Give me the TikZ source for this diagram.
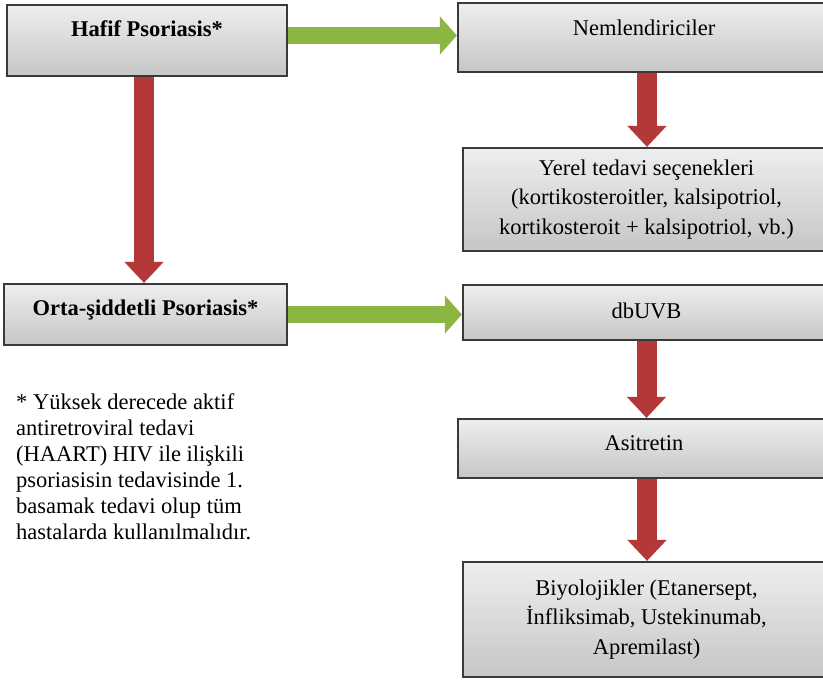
\documentclass[tikz,border=0pt]{standalone}
\usepackage{fontspec}
\setmainfont{Liberation Serif}
\usetikzlibrary{arrows.meta}
\definecolor{boxline}{RGB}{58,58,58}
\definecolor{boxtop}{RGB}{238,238,238}
\definecolor{boxbot}{RGB}{198,198,198}
\definecolor{arrred}{RGB}{180,56,56}
\definecolor{arrgreen}{RGB}{141,181,66}
\tikzset{
  flowbox/.style={draw=boxline, line width=2.2pt, top color=boxtop, bottom color=boxbot,
    inner sep=0pt, align=center, font=\fontsize{22.5}{29.5}\selectfont, text height=16pt},
  redarrow/.style={draw=arrred, line width=20pt, -{Triangle[width=38pt,length=21pt]}},
  greenarrow/.style={draw=arrgreen, line width=17pt, -{Triangle[width=37pt,length=17pt]}},
  footnote/.style={inner sep=0pt, align=left, anchor=north west, font=\fontsize{22.5}{26}\selectfont}
}
\begin{document}
\begin{tikzpicture}[x=1pt,y=-1pt]
\useasboundingbox (0,0) rectangle (823,681);
\fill[white] (0,0) rectangle (823,681);
\clip (0,0) rectangle (823,681);
% boxes
\node[flowbox, minimum width=280pt, minimum height=71pt, text depth=25pt] (h) at (147,40.5) {\bfseries Hafif Psoriasis*};
\node[flowbox, minimum width=372pt, minimum height=69pt, text depth=21pt] (n) at (644,37.5) {Nemlendiriciler};
\node[flowbox, minimum width=367pt, minimum height=103pt, text height=, text depth=] (y) at (646.5,199.5) {Yerel tedavi seçenekleri\\(kortikosteroitler, kalsipotriol,\\kortikosteroit + kalsipotriol, vb.)};
\node[flowbox, minimum width=283pt, minimum height=61pt, text depth=15pt] (o) at (145.5,314.5) {\bfseries Orta-şiddetli Psoriasis*};
\node[flowbox, minimum width=367pt, minimum height=55pt, text depth=5pt] (d) at (646.5,312.5) {dbUVB};
\node[flowbox, minimum width=372pt, minimum height=59pt, text depth=13pt] (a) at (644,448.5) {Asitretin};
\node[flowbox, minimum width=367pt, minimum height=115pt, text height=, text depth=] (b) at (646.5,619.5) {Biyolojikler (Etanersept,\\İnfliksimab, Ustekinumab,\\Apremilast)};
% footnote
\node[footnote] (f) at (16,393.3) {* Yüksek derecede aktif\\antiretroviral tedavi\\(HAART) HIV ile ilişkili\\psoriasisin tedavisinde 1.\\basamak tedavi olup tüm\\hastalarda kullanılmalıdır.};
% connectors
\draw[greenarrow] ([yshift=5pt]h.east) -- ([yshift=2pt]n.west);
\draw[greenarrow] (o.east) -- (o.east -| d.west);
\draw[redarrow] ([xshift=-3pt]h.south) -- ([xshift=-3pt]h.south |- o.north);
\draw[redarrow] ([xshift=3pt]n.south) -- ([xshift=3pt]n.south |- y.north);
\draw[redarrow] (d.south) -- (d.south |- a.north);
\draw[redarrow] ([xshift=3pt]a.south) -- ([xshift=3pt]a.south |- b.north);
\end{tikzpicture}
\end{document}
